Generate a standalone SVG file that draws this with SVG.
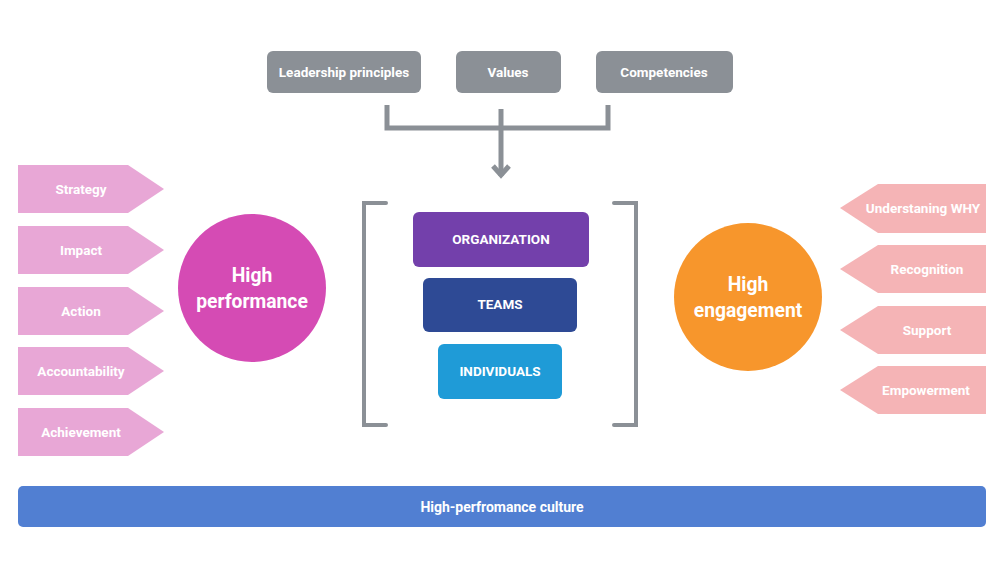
<svg xmlns="http://www.w3.org/2000/svg" width="1000" height="563" viewBox="0 0 1000 563">
<style>
text{font-family:Roboto,"Liberation Sans",sans-serif;font-weight:bold;fill:#fff;text-anchor:middle;dominant-baseline:central}
.t13{font-size:13.5px}
.t14{font-size:14px}
.big{font-size:19.3px}
.gray{fill:#8b9096}
.lp{fill:#e8a7d6}
.rp{fill:#f5b4b6}
.conn{stroke:#8b9096;stroke-width:5;fill:none}
.br{stroke:#8b9096;stroke-width:4;fill:none;stroke-linecap:round}
</style>
<rect width="1000" height="563" fill="#fff"/>
<g id="leadership"><rect class="gray" x="267" y="51" width="154" height="42" rx="6"/><text class="t13" x="344" y="72">Leadership principles</text></g>
<g id="values"><rect class="gray" x="456" y="51" width="105" height="42" rx="6"/><text class="t13" x="508" y="72">Values</text></g>
<g id="competencies"><rect class="gray" x="596" y="51" width="137" height="42" rx="6"/><text class="t13" x="664" y="72">Competencies</text></g>
<g id="connectors">
<path class="conn" d="M387 105 V128 H608 V105"/>
<path class="conn" d="M501 109 V176"/>
<path class="conn" d="M493 166 L501 175 L509 166"/>
</g>
<g id="strategy"><polygon class="lp" points="18,165 128,165 164,189 128,213 18,213"/><text class="t13" x="81" y="189">Strategy</text></g>
<g id="impact"><polygon class="lp" points="18,226 128,226 164,250 128,274 18,274"/><text class="t13" x="81" y="250">Impact</text></g>
<g id="action"><polygon class="lp" points="18,287 128,287 164,311 128,335 18,335"/><text class="t13" x="81" y="311">Action</text></g>
<g id="accountability"><polygon class="lp" points="18,347 128,347 164,371 128,395 18,395"/><text class="t13" x="81" y="371">Accountability</text></g>
<g id="achievement"><polygon class="lp" points="18,408 128,408 164,432 128,456 18,456"/><text class="t13" x="81" y="432">Achievement</text></g>
<g id="high-performance"><circle cx="252" cy="288" r="74" fill="#d54bb4"/><text class="big" x="252" y="275">High</text><text class="big" x="252" y="301">performance</text></g>
<g id="high-engagement"><circle cx="748" cy="297" r="74" fill="#f7962c"/><text class="big" x="748" y="284">High</text><text class="big" x="748" y="310">engagement</text></g>
<g id="understanding"><polygon class="rp" points="986,184 878,184 840,208 878,233 986,233"/><text class="t13" x="923" y="208">Understaning WHY</text></g>
<g id="recognition"><polygon class="rp" points="986,245 878,245 840,269 878,293 986,293"/><text class="t13" x="927" y="269">Recognition</text></g>
<g id="support"><polygon class="rp" points="986,306 878,306 840,330 878,354 986,354"/><text class="t13" x="927" y="330">Support</text></g>
<g id="empowerment"><polygon class="rp" points="986,366 878,366 840,390 878,414 986,414"/><text class="t13" x="926" y="390">Empowerment</text></g>
<g id="bracket">
<path class="br" d="M386 203 H364 V425 H386"/>
<path class="br" d="M614 203 H636 V425 H614"/>
</g>
<g id="organization"><rect x="413" y="212" width="176" height="55" rx="6" fill="#7340ab"/><text class="t13" x="501" y="239">ORGANIZATION</text></g>
<g id="teams"><rect x="423" y="278" width="154" height="54" rx="6" fill="#2e4a95"/><text class="t13" x="500" y="304">TEAMS</text></g>
<g id="individuals"><rect x="438" y="344" width="124" height="55" rx="6" fill="#1f9bd7"/><text class="t13" x="500" y="371">INDIVIDUALS</text></g>
<g id="culture"><rect x="18" y="486" width="968" height="41" rx="5" fill="#517fd2"/><text class="t14" x="502" y="507">High-perfromance culture</text></g>
</svg>
